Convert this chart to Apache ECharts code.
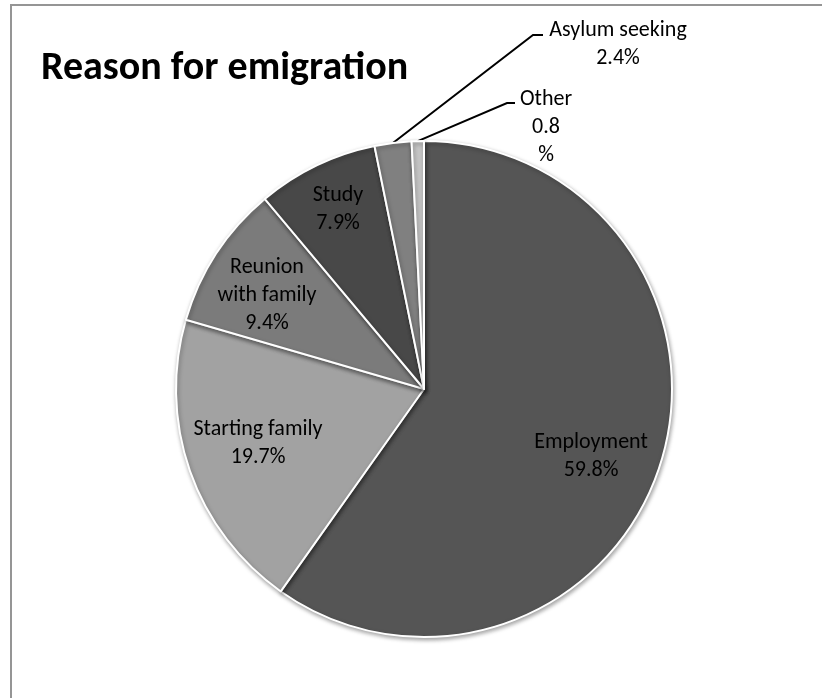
<!DOCTYPE html>
<html>
<head>
<meta charset="utf-8">
<title>Reason for emigration</title>
<script src="https://cdn.jsdelivr.net/npm/echarts@6/dist/echarts.min.js"></script>
<style>
  html, body { margin: 0; padding: 0; background: #fff; }
  #chart { width: 822px; height: 698px; }
</style>
</head>
<body>
<div id="chart"></div>
<script>
// Survey shares by reason, in percent, going clockwise from 12 o'clock
const categories = ['Employment', 'Starting family', 'Reunion with family', 'Study', 'Asylum seeking', 'Other'];
const shares = [59.8, 19.7, 9.4, 7.9, 2.4, 0.8];

// How each label is broken over lines
const labelNames = ['Employment', 'Starting family', 'Reunion\nwith family', 'Study', 'Asylum seeking', 'Other'];
const splitPercent = [false, false, false, false, false, true];

// Slice fills
const sliceColors = ['#555555', '#a2a2a2', '#7b7b7b', '#484848', '#808080', '#c4c4c4'];

// Pie geometry
const CX = 424, CY = 389, R = 248;
const FONT = "'Carlito', 'Lato', 'Noto Sans', sans-serif";

// Where each label block sits (offset from the pie centre for inner labels,
// absolute for the callouts), plus the callout leader bends
const labelSpots = [
  { dx: 167, dy: 67 },
  { dx: -166, dy: 54 },
  { dx: -157, dy: -94 },
  { dx: -86, dy: -180 },
  { x: 618, y: 44, bend: [533, 35], end: [543, 35] },
  { x: 546, y: 127, bend: [507, 103], end: [515, 103] }
];

const chart = echarts.init(document.getElementById('chart'), null, { renderer: 'canvas' });

const data = categories.map((name, i) => {
  const outside = i >= 4;
  return {
    name: name,
    value: shares[i],
    itemStyle: { color: sliceColors[i] },
    label: { position: outside ? 'outside' : 'inside' },
    labelLine: { show: outside }
  };
});

chart.setOption({
  animation: false,
  backgroundColor: '#ffffff',
  title: {
    text: 'Reason for emigration',
    left: 36,
    top: 44,
    textStyle: { fontFamily: FONT, fontWeight: 'bold', fontSize: 40, color: '#000' }
  },
  graphic: [
    { type: 'line', shape: { x1: 11, y1: 5, x2: 822, y2: 5 }, style: { stroke: '#959595', lineWidth: 2 }, silent: true },
    { type: 'line', shape: { x1: 11, y1: 4, x2: 11, y2: 698 }, style: { stroke: '#959595', lineWidth: 2 }, silent: true }
  ],
  series: [{
    type: 'pie',
    center: [CX, CY],
    radius: R,
    startAngle: 90,
    clockwise: true,
    avoidLabelOverlap: false,
    data: data,
    itemStyle: {
      borderColor: '#ffffff',
      borderWidth: 2,
      shadowBlur: 4,
      shadowOffsetX: 1,
      shadowOffsetY: 2,
      shadowColor: 'rgba(0,0,0,0.35)'
    },
    label: {
      show: true,
      color: '#000',
      fontFamily: FONT,
      fontSize: 22,
      lineHeight: 28,
      align: 'center',
      formatter: p => labelNames[p.dataIndex] + '\n' +
        p.value.toFixed(1) + (splitPercent[p.dataIndex] ? '\n%' : '%')
    },
    labelLine: {
      show: true,
      lineStyle: { color: '#000', width: 2 }
    },
    labelLayout: function (params) {
      const s = labelSpots[params.dataIndex];
      if (s.dx !== undefined) {
        return { x: CX + s.dx, y: CY + s.dy, align: 'center', verticalAlign: 'middle' };
      }
      const start = params.labelLinePoints ? params.labelLinePoints[0] : null;
      const out = { x: s.x, y: s.y, align: 'center', verticalAlign: 'middle' };
      if (start) out.labelLinePoints = [start, s.bend, s.end];
      return out;
    }
  }]
});
</script>
</body>
</html>
